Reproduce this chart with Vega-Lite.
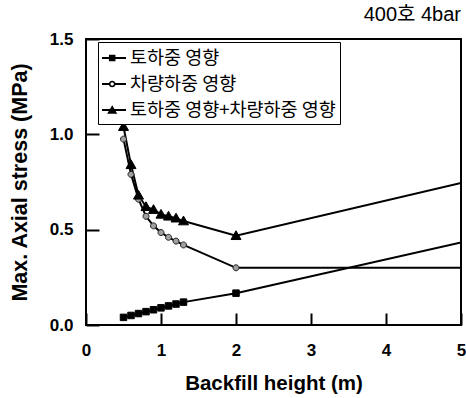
{
  "$schema": "https://vega.github.io/schema/vega-lite/v6.json",
  "width": 375,
  "height": 286,
  "autosize": {"type": "none"},
  "padding": {"left": 86, "top": 39, "right": 5, "bottom": 73},
  "background": "white",
  "title": {"text": "400호 4bar", "anchor": "end", "frame": "group", "fontSize": 20, "fontWeight": "normal", "font": "Liberation Sans, Noto Sans CJK KR", "offset": 5, "color": "black"},
  "config": {"view": {"stroke": "black", "strokeWidth": 2}},
  "data": {"values": [
    {"series": "토하중 영향", "x": 0.5, "y": 0.04},
    {"series": "토하중 영향", "x": 0.6, "y": 0.05},
    {"series": "토하중 영향", "x": 0.7, "y": 0.06},
    {"series": "토하중 영향", "x": 0.8, "y": 0.07},
    {"series": "토하중 영향", "x": 0.9, "y": 0.08},
    {"series": "토하중 영향", "x": 1.0, "y": 0.09},
    {"series": "토하중 영향", "x": 1.1, "y": 0.10},
    {"series": "토하중 영향", "x": 1.2, "y": 0.11},
    {"series": "토하중 영향", "x": 1.3, "y": 0.12},
    {"series": "토하중 영향", "x": 2.0, "y": 0.167},
    {"series": "토하중 영향", "x": 5.0, "y": 0.433},
    {"series": "차량하중 영향", "x": 0.5, "y": 0.975},
    {"series": "차량하중 영향", "x": 0.6, "y": 0.79},
    {"series": "차량하중 영향", "x": 0.7, "y": 0.66},
    {"series": "차량하중 영향", "x": 0.8, "y": 0.57},
    {"series": "차량하중 영향", "x": 0.9, "y": 0.52},
    {"series": "차량하중 영향", "x": 1.0, "y": 0.485},
    {"series": "차량하중 영향", "x": 1.1, "y": 0.46},
    {"series": "차량하중 영향", "x": 1.2, "y": 0.44},
    {"series": "차량하중 영향", "x": 1.3, "y": 0.42},
    {"series": "차량하중 영향", "x": 2.0, "y": 0.30},
    {"series": "차량하중 영향", "x": 5.0, "y": 0.30},
    {"series": "토하중 영향+차량하중 영향", "x": 0.5, "y": 1.04},
    {"series": "토하중 영향+차량하중 영향", "x": 0.6, "y": 0.84},
    {"series": "토하중 영향+차량하중 영향", "x": 0.7, "y": 0.68},
    {"series": "토하중 영향+차량하중 영향", "x": 0.8, "y": 0.62},
    {"series": "토하중 영향+차량하중 영향", "x": 0.9, "y": 0.605},
    {"series": "토하중 영향+차량하중 영향", "x": 1.0, "y": 0.58},
    {"series": "토하중 영향+차량하중 영향", "x": 1.1, "y": 0.57},
    {"series": "토하중 영향+차량하중 영향", "x": 1.2, "y": 0.56},
    {"series": "토하중 영향+차량하중 영향", "x": 1.3, "y": 0.545},
    {"series": "토하중 영향+차량하중 영향", "x": 2.0, "y": 0.468},
    {"series": "토하중 영향+차량하중 영향", "x": 5.0, "y": 0.745}
  ]},
  "encoding": {
    "x": {"field": "x", "type": "quantitative", "scale": {"domain": [0, 5], "nice": false},
      "axis": {"title": "Backfill height (m)", "values": [0, 1, 2, 3, 4, 5], "format": "d", "grid": false, "domain": false,
        "tickSize": -12, "tickWidth": 2, "tickColor": "black", "labelPadding": 29, "labelFlush": false,
        "labelFont": "Liberation Sans", "labelFontWeight": "bold", "labelFontSize": 17, "labelColor": "black",
        "titleFont": "Liberation Sans", "titleFontWeight": "bold", "titleFontSize": 20.5, "titleColor": "black",
        "titleX": 187.5, "titleY": 58, "titleBaseline": "middle", "titleAlign": "center"}},
    "y": {"field": "y", "type": "quantitative", "scale": {"domain": [0, 1.5], "nice": false},
      "axis": {"title": "Max. Axial stress (MPa)", "values": [0, 0.5, 1.0, 1.5], "format": ".1f", "grid": false, "domain": false,
        "tickSize": -13, "tickWidth": 2, "tickColor": "black", "labelPadding": 26, "labelFlush": false,
        "labelFont": "Liberation Sans", "labelFontWeight": "bold", "labelFontSize": 17, "labelColor": "black",
        "titleFont": "Liberation Sans", "titleFontWeight": "bold", "titleFontSize": 21.5, "titleColor": "black",
        "titleX": -66, "titleY": 143, "titleAngle": -90, "titleBaseline": "middle", "titleAlign": "center"}}
  },
  "layer": [
    {
      "mark": {"type": "line", "color": "black", "strokeWidth": 2, "clip": true},
      "encoding": {"detail": {"field": "series"}}
    },
    {
      "transform": [{"filter": "datum.series === '토하중 영향' && datum.x < 5"}],
      "mark": {"type": "point", "filled": true, "size": 100, "shape": "M-0.65,-0.65H0.65V0.65H-0.65Z", "fill": "black", "stroke": "black", "strokeWidth": 1, "opacity": 1}
    },
    {
      "transform": [{"filter": "datum.series === '차량하중 영향' && datum.x < 5"}],
      "mark": {"type": "point", "filled": true, "size": 100, "shape": "M-0.6,0A0.6,0.6 0 1,0 0.6,0A0.6,0.6 0 1,0 -0.6,0Z", "fill": "#a0a0a0", "stroke": "#222222", "strokeWidth": 1, "opacity": 1}
    },
    {
      "transform": [{"filter": "datum.series === '토하중 영향+차량하중 영향' && datum.x < 5"}],
      "mark": {"type": "point", "filled": true, "size": 100, "shape": "M0,-1L1,0.75H-1Z", "fill": "black", "stroke": "black", "strokeWidth": 1, "opacity": 1}
    },
    {
      "transform": [{"filter": "datum.x > 100"}],
      "mark": {"type": "point", "filled": true, "color": "black", "opacity": 1},
      "encoding": {
        "shape": {"field": "series", "type": "nominal",
          "scale": {"domain": ["토하중 영향", "차량하중 영향", "토하중 영향+차량하중 영향"],
            "range": [
              "M-1,-0.08H1V0.08H-1ZM-0.42,-0.28H0.12V0.28H-0.42Z",
              "M-1,-0.08H-0.42V0.08H-1ZM0.12,-0.08H1V0.08H0.12ZM-0.43,0A0.28,0.28 0 1,1 0.13,0A0.28,0.28 0 1,1 -0.43,0ZM-0.29,0A0.14,0.14 0 1,0 -0.01,0A0.14,0.14 0 1,0 -0.29,0Z",
              "M-1,-0.08H1V0.08H-1ZM-0.15,-0.4L0.27,0.32H-0.57Z"]},
          "legend": {"title": null, "orient": "none", "legendX": 12, "legendY": 3, "padding": 4, "rowPadding": 4,
            "strokeColor": "black", "fillColor": "white", "symbolSize": 576, "symbolStrokeWidth": 0,
            "labelFont": "Noto Sans CJK KR", "labelFontSize": 18.5, "labelColor": "black", "labelOffset": 4, "labelLimit": 400}}
      }
    }
  ]
}
